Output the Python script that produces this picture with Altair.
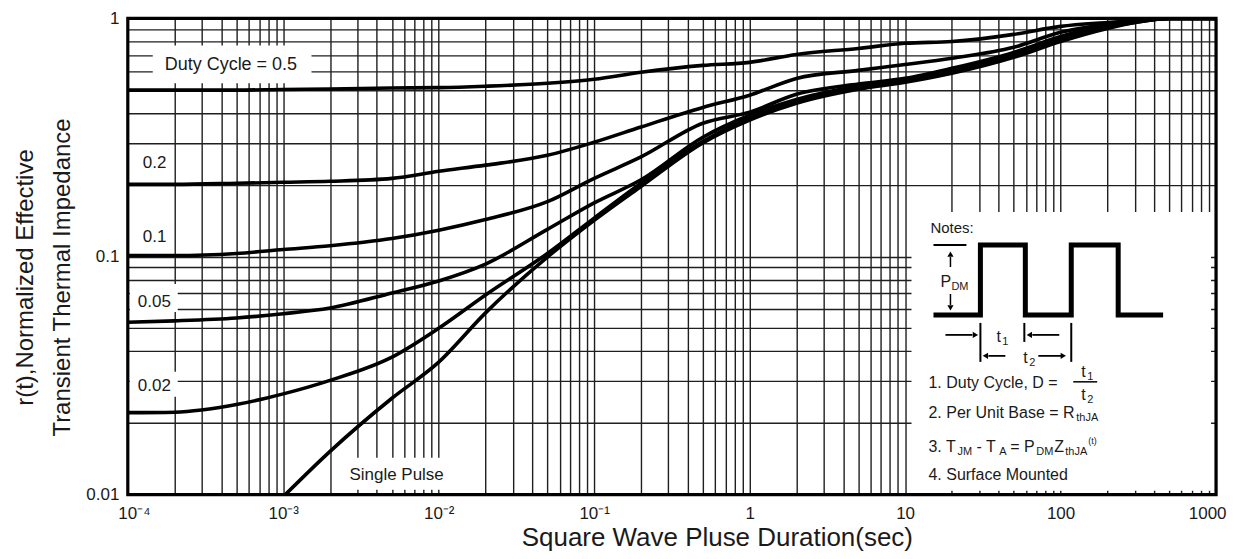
import altair as alt
import pandas as pd

# ---------------- axis ticks / labels ----------------
X_MAJOR = [1e-4, 1e-3, 1e-2, 1e-1, 1, 10, 100, 1000]
X_MAJOR_LABELS = ["10⁻⁴", "10⁻³", "10⁻²", "10⁻¹", "1", "10", "100", "1000"]
Y_MAJOR = [0.01, 0.1, 1]
Y_MAJOR_LABELS = ["0.01", "0.1", "1"]
X_GRID = [round(m * 10.0 ** e, 8) for e in range(-4, 3) for m in range(1, 10)] + [1000]
Y_GRID = [round(m * 10.0 ** e, 8) for e in (-2, -1) for m in range(1, 10)] + [1]

# ---------------- curves ----------------
T = [1e-4, 2e-4, 5e-4, 1e-3, 2e-3, 5e-3, 1e-2, 2e-2, 5e-2, 0.1, 0.2, 0.5,
     1, 2, 5, 10, 20, 50, 100, 200, 300, 500, 1000]
D_050 = [0.50, 0.50, 0.50, 0.503, 0.505, 0.51, 0.512, 0.519, 0.534, 0.555, 0.594, 0.635,
         0.654, 0.706, 0.748, 0.786, 0.80, 0.857, 0.926, 0.962, 0.98, 1.0, 1.0]
D_020 = [0.201, 0.201, 0.203, 0.205, 0.207, 0.213, 0.228, 0.242, 0.266, 0.302, 0.35, 0.423,
         0.476, 0.56, 0.605, 0.64, 0.68, 0.756, 0.874, 0.944, 0.97, 1.0, 1.0]
D_010 = [0.101, 0.101, 0.103, 0.107, 0.111, 0.119, 0.129, 0.143, 0.17, 0.213, 0.262, 0.363,
         0.404, 0.48, 0.53, 0.56, 0.617, 0.72, 0.84, 0.935, 0.97, 1.0, 1.0]
D_005 = [0.053, 0.0537, 0.0552, 0.0575, 0.0608, 0.0703, 0.079, 0.093, 0.13, 0.168, 0.21, 0.317,
         0.392, 0.457, 0.519, 0.55, 0.605, 0.706, 0.824, 0.926, 0.97, 1.0, 1.0]
D_002 = [0.0221, 0.0222, 0.0239, 0.0265, 0.0302, 0.0378, 0.050, 0.069, 0.103, 0.145, 0.203, 0.305,
         0.381, 0.444, 0.509, 0.544, 0.594, 0.693, 0.809, 0.917, 0.962, 1.0, 1.0]
T_SINGLE = [1.03e-3, 2e-3, 5e-3, 1e-2, 2e-2, 5e-2, 0.1, 0.2, 0.5, 1, 2, 5, 10, 20, 50,
            100, 200, 300, 500, 1000]
SINGLE = [0.01, 0.0152, 0.0254, 0.036, 0.058, 0.0995, 0.142, 0.197, 0.30, 0.374, 0.44, 0.504,
          0.539, 0.588, 0.686, 0.80, 0.908, 0.962, 1.0, 1.0]

rows = []
for name, ys in [("0.5", D_050), ("0.2", D_020), ("0.1", D_010), ("0.05", D_005), ("0.02", D_002)]:
    for t, r in zip(T, ys):
        rows.append({"curve": name, "t": t, "r": r})
for t, r in zip(T_SINGLE, SINGLE):
    rows.append({"curve": "Single Pulse", "t": t, "r": r})
curves_df = pd.DataFrame(rows)

# ---------------- annotation texts (pixel positions inside the plot) ----------------
TXT = ["Duty Cycle = 0.5", "0.2", "0.1", "0.05", "0.02", "Single Pulse",
       "Notes:", "P", "DM", "t", "1", "t", "2",
       "1. Duty Cycle, D =", "t", "1", "t", "2",
       "2. Per Unit Base = R", "thJA",
       "3. T", "JM", "- T", "A", "= P", "DM", "Z", "thJA", "(t)",
       "4. Surface Mounted"]
TXT_X = [37, 15, 15, 10, 10, 222,
         804, 814, 825, 870, 876, 897, 903,
         802, 955, 961, 955, 961,
         802, 950,
         802, 831, 850, 873, 884, 910, 928, 939, 962,
         802]
TXT_Y = [47, 145, 219, 284, 368, 457,
         210, 264, 269, 319, 324, 340, 345,
         365, 354, 359, 377, 382,
         395, 400,
         429, 434, 429, 434, 429, 434, 429, 434, 423,
         457]
TXT_SIZE = [18, 17, 17, 17, 17, 17,
            15, 16, 11, 16, 11, 16, 11,
            16, 16, 11, 16, 11,
            16, 11,
            16, 11, 16, 11, 16, 11, 16, 11, 9,
            16]
text_df = pd.DataFrame({"text": TXT, "x": TXT_X, "y": TXT_Y, "size": TXT_SIZE})

# white boxes behind labels / notes
BOX_X = [25, 2, 2, 217, 785]
BOX_X2 = [184, 50, 50, 327, 1085]
BOX_Y = [27, 266, 354, 440, 194]
BOX_Y2 = [65, 294, 379, 472, 473]
box_df = pd.DataFrame({"x": BOX_X, "x2": BOX_X2, "y": BOX_Y, "y2": BOX_Y2})

# pulse waveform of the notes
WAVE_X = [807, 854, 854, 899, 899, 945, 945, 992, 992, 1037]
WAVE_Y = [297, 297, 227, 227, 297, 297, 227, 227, 297, 297]
wave_df = pd.DataFrame({"x": WAVE_X, "y": WAVE_Y, "i": list(range(len(WAVE_X)))})

# thin lines of the notes (arrow shafts, ticks, fraction bar)
R_X = [807, 824, 824, 819, 854, 898, 945, 906, 862, 912, 947]
R_X2 = [840, 824, 824, 846, 854, 898, 945, 933, 879, 935, 971]
R_Y = [227, 239, 276, 317, 305, 305, 305, 317, 338, 338, 364]
R_Y2 = [227, 249, 287, 317, 344, 324, 344, 317, 338, 338, 364]
R_W = [2, 1.5, 1.5, 1.8, 2, 2, 2, 1.8, 1.8, 1.8, 1.5]
rule_df = pd.DataFrame({"x": R_X, "x2": R_X2, "y": R_Y, "y2": R_Y2, "w": R_W})

# arrow heads
HEADS = {
    "triangle-up": ([824], [236]),
    "triangle-down": ([824], [290]),
    "triangle-right": ([849, 937], [317, 338]),
    "triangle-left": ([903, 859], [317, 338]),
}

W, H = 1090, 477
INK = "#1a1a1a"
GRID = "#1f1f1f"
FONT = "Liberation Sans"


def label_expr(values, labels):
    expr = "''"
    for v, lab in reversed(list(zip(values, labels))):
        expr = f"abs(datum.value / {v} - 1) < 1e-6 ? '{lab}' : ({expr})"
    return expr


x_axis = alt.Axis(
    values=X_GRID, labelExpr=label_expr(X_MAJOR, X_MAJOR_LABELS),
    grid=True, gridColor=GRID, gridWidth=1.4, gridOpacity=1,
    ticks=False, domain=False,
    labelFont=FONT, labelFontSize=17, labelColor=INK, labelPadding=11,
    labelFlush=True, labelFlushOffset=10, labelOverlap=False, labelBound=False,
    title="Square Wave Pluse Duration(sec)", titleFont=FONT, titleFontSize=26,
    titleFontWeight="normal", titleColor=INK, titleX=590, titleY=51,
    titleAlign="center", titleBaseline="alphabetic",
)
y_axis = alt.Axis(
    values=Y_GRID, labelExpr=label_expr(Y_MAJOR, Y_MAJOR_LABELS),
    grid=True, gridColor=GRID, gridWidth=1.4, gridOpacity=1,
    ticks=False, domain=False,
    labelFont=FONT, labelFontSize=17, labelColor=INK, labelPadding=9,
    labelOverlap=False, labelBound=False,
    title=["r(t),Normalized Effective", "Transient Thermal Impedance"],
    titleFont=FONT, titleFontSize=24, titleFontWeight="normal", titleColor=INK,
    titleAngle=270, titleX=-95, titleY=259, titleAlign="center",
    titleBaseline="alphabetic", titleLineHeight=37,
)

curves = alt.Chart(curves_df).mark_line(
    color="black", strokeWidth=3.6, clip=True, interpolate="monotone"
).encode(
    x=alt.X("t:Q", scale=alt.Scale(type="log", domain=[1e-4, 1000], nice=False), axis=x_axis),
    y=alt.Y("r:Q", scale=alt.Scale(type="log", domain=[0.01, 1], nice=False), axis=y_axis),
    detail="curve:N",
)

boxes = alt.Chart(box_df).mark_rect(fill="white", stroke=None).encode(
    x=alt.X("x:Q", scale=None), x2="x2:Q",
    y=alt.Y("y:Q", scale=None), y2="y2:Q",
)

wave = alt.Chart(wave_df).mark_line(
    color="black", strokeWidth=5, strokeJoin="miter", strokeCap="butt"
).encode(
    x=alt.X("x:Q", scale=None), y=alt.Y("y:Q", scale=None), order="i:Q"
)

rules = alt.Chart(rule_df).mark_rule(color="black").encode(
    x=alt.X("x:Q", scale=None), x2="x2:Q",
    y=alt.Y("y:Q", scale=None), y2="y2:Q",
    strokeWidth=alt.StrokeWidth("w:Q", scale=None),
)

heads = []
for shape, (hx, hy) in HEADS.items():
    heads.append(
        alt.Chart(pd.DataFrame({"x": hx, "y": hy})).mark_point(
            shape=shape, filled=True, size=38, color="black", opacity=1
        ).encode(x=alt.X("x:Q", scale=None), y=alt.Y("y:Q", scale=None))
    )

texts = alt.Chart(text_df).mark_text(
    align="left", baseline="middle", font=FONT, color=INK
).encode(
    x=alt.X("x:Q", scale=None), y=alt.Y("y:Q", scale=None),
    size=alt.Size("size:Q", scale=None), text="text:N",
)

frame = alt.Chart(pd.DataFrame({"a": [0]})).mark_rect(
    fill=None, stroke="black", strokeWidth=3.2
).encode(x=alt.value(0), x2=alt.value(W), y=alt.value(0), y2=alt.value(H))

chart = alt.layer(curves, boxes, wave, rules, *heads, texts, frame).properties(
    width=W, height=H,
    autosize=alt.AutoSizeParams(type="none"),
    padding={"left": 120, "top": 10, "right": 12, "bottom": 56},
).configure_view(stroke=None).configure(background="white")

chart.save("out.html", embed_options={"renderer": "svg", "actions": False})
